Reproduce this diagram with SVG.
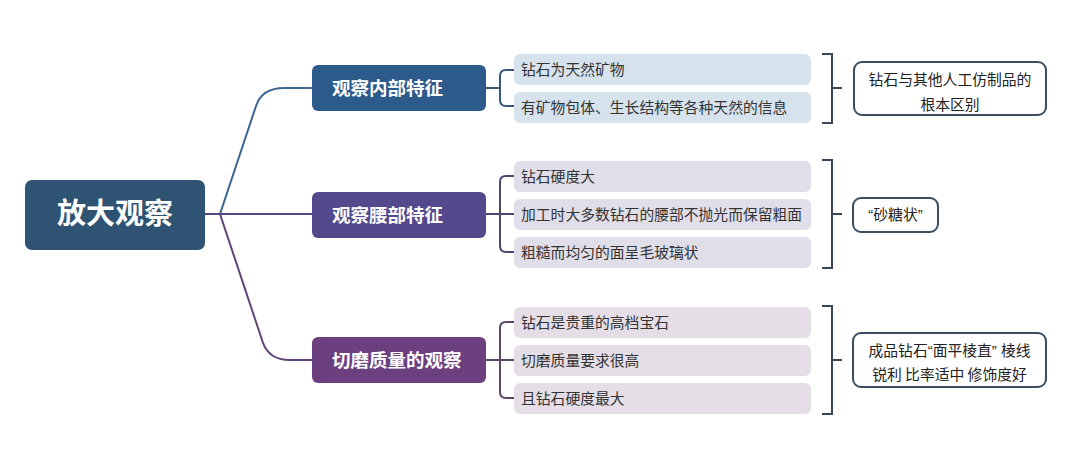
<svg xmlns="http://www.w3.org/2000/svg" width="1080" height="469" viewBox="0 0 1080 469">
<style>
text{font-family:"Noto Sans CJK SC","Noto Sans",sans-serif}
.q{font-family:"Liberation Sans","Noto Sans",sans-serif}
.root{fill:#2f5373}
.rt{fill:#fff;font-size:29px;font-weight:bold;text-anchor:middle}
.bt{fill:#fff;font-size:18.5px;font-weight:bold}
.leaf1{fill:#d6e3ed}
.leaf2{fill:#e0dee8}
.leaf3{fill:#e5dee7}
.lt{fill:#333;font-size:14.8px}
.sum{fill:#fff;stroke:#3a4e5e;stroke-width:2}
.st{fill:#222;font-size:14.8px;text-anchor:middle}
.c{fill:none;stroke-width:2;stroke-linecap:round}
.br{fill:none;stroke:#3a4756;stroke-width:2}
</style>
<g id="connectors">
<path class="c" stroke="#3b6690" d="M205,214 L220,214 L256,106 Q262,88 284,88 L312,88"/>
<path class="c" stroke="#4f4a84" d="M205,214 L312,214"/>
<path class="c" stroke="#5f4577" d="M220,214 L262.7,342 Q268.7,360 290,360 L312,360"/>
<path class="c" stroke="#3b5672" d="M486,88 L500,88 M514,70 L506,70 Q500,70 500,76 L500,100 Q500,106 506,106 L514,106"/>
<path class="c" stroke="#4a496e" d="M486,214 L514,214 M514,176 L506,176 Q500,176 500,182 L500,246 Q500,252 506,252 L514,252"/>
<path class="c" stroke="#5b4569" d="M486,360 L514,360 M514,322 L506,322 Q500,322 500,328 L500,392 Q500,398 506,398 L514,398"/>
<path class="br" d="M822,54 L832,54 L832,123 L822,123 M832,88 L842,88"/>
<path class="br" d="M822,160 L832,160 L832,268 L822,268 M832,214 L842,214"/>
<path class="br" d="M822,306 L832,306 L832,414 L822,414 M832,360 L842,360"/>
</g>
<g id="root"><rect class="root" x="25" y="180" width="180" height="70" rx="7"/><text class="rt" x="115" y="224">放大观察</text></g>
<g id="b1"><rect fill="#2c5a8b" x="312" y="65" width="174" height="46" rx="6"/><text class="bt" x="332" y="94.5">观察内部特征</text></g>
<g id="b2"><rect fill="#54498d" x="312" y="192" width="174" height="46" rx="6"/><text class="bt" x="332" y="221.5">观察腰部特征</text></g>
<g id="b3"><rect fill="#6c3f7f" x="312" y="337" width="174" height="46" rx="6"/><text class="bt" x="332" y="366.5">切磨质量的观察</text></g>
<g id="l11"><rect class="leaf1" x="514" y="54" width="297" height="31" rx="6"/><text class="lt" x="521" y="75">钻石为天然矿物</text></g>
<g id="l12"><rect class="leaf1" x="514" y="92" width="297" height="31" rx="6"/><text class="lt" x="521" y="113">有矿物包体、生长结构等各种天然的信息</text></g>
<g id="l21"><rect class="leaf2" x="514" y="161" width="297" height="31" rx="6"/><text class="lt" x="521" y="182">钻石硬度大</text></g>
<g id="l22"><rect class="leaf2" x="514" y="199" width="297" height="31" rx="6"/><text class="lt" x="521" y="220">加工时大多数钻石的腰部不抛光而保留粗面</text></g>
<g id="l23"><rect class="leaf2" x="514" y="237" width="297" height="31" rx="6"/><text class="lt" x="521" y="258">粗糙而均匀的面呈毛玻璃状</text></g>
<g id="l31"><rect class="leaf3" x="514" y="307" width="297" height="31" rx="6"/><text class="lt" x="521" y="328">钻石是贵重的高档宝石</text></g>
<g id="l32"><rect class="leaf3" x="514" y="345" width="297" height="31" rx="6"/><text class="lt" x="521" y="366">切磨质量要求很高</text></g>
<g id="l33"><rect class="leaf3" x="514" y="383" width="297" height="31" rx="6"/><text class="lt" x="521" y="404">且钻石硬度最大</text></g>
<g id="s1"><rect class="sum" x="854" y="62" width="192" height="53" rx="8"/><text class="st" x="950" y="85">钻石与其他人工仿制品的</text><text class="st" x="950" y="110">根本区别</text></g>
<g id="s2"><rect class="sum" x="853" y="198" width="85" height="34" rx="8"/><text class="st" x="895.5" y="220"><tspan class="q">“</tspan>砂糖状<tspan class="q">”</tspan></text></g>
<g id="s3"><rect class="sum" x="853" y="333" width="193" height="54" rx="8"/><text class="st" x="949.5" y="356">成品钻石<tspan class="q">“</tspan>面平棱直<tspan class="q">” </tspan>棱线</text><text class="st" x="949.5" y="380">锐利 比率适中 修饰度好</text></g>
</svg>
